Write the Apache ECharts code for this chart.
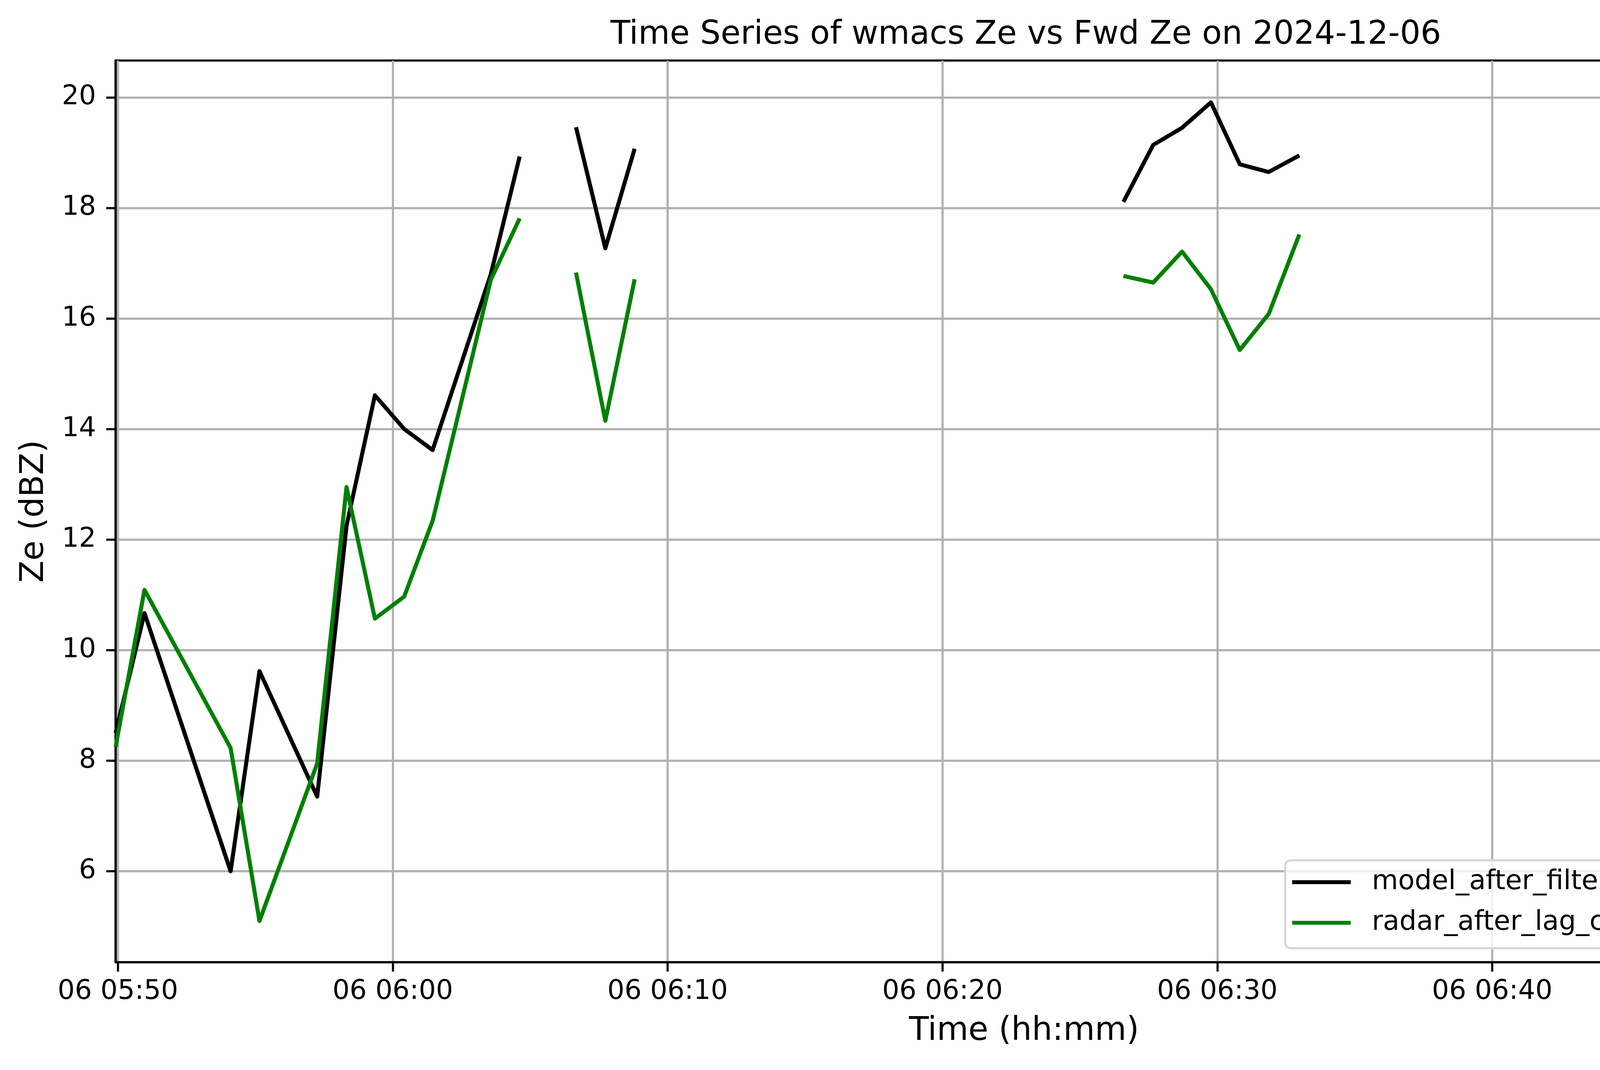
<!DOCTYPE html>
<html>
<head>
<meta charset="utf-8">
<script src="https://cdn.jsdelivr.net/npm/echarts@6/dist/echarts.min.js"></script>
<style>
  html, body { margin: 0; padding: 0; background: #fff; }
  #chart { width: 4995px; height: 2740px; }
</style>
</head>
<body>
<div id="chart"></div>
<script>
// ------------------------- 数据 -------------------------
// 时间戳 (2024-12-06)，null 表示缺测 → 折线断开
const times = [
  '05:49:55', '05:50:58', '05:54:06', '05:55:09', '05:57:15', '05:58:19',
  '05:59:21', '06:00:25', '06:01:27', '06:03:34', '06:04:37', '06:05:40',
  '06:06:40', '06:07:44', '06:08:48', '06:09:51',
  '06:26:35', '06:27:40', '06:28:43', '06:29:46', '06:30:49', '06:31:52', '06:32:59', '06:34:02',
  '06:51:45', '06:52:51', '06:53:56'
];
const modelZe = [
  8.50, 10.67, 6.00, 9.62, 7.35, 12.25,
  14.61, 14.00, 13.62, 16.80, 18.93, null,
  19.46, 17.27, 19.07, null,
  18.11, 19.14, 19.45, 19.91, 18.79, 18.65, 18.95, null,
  17.73, 18.61, 19.24
];
const radarZe = [
  8.25, 11.09, 8.23, 5.10, 7.95, 12.95,
  10.57, 10.97, 12.34, 16.70, 17.81, null,
  16.83, 14.15, 16.71, null,
  16.77, 16.65, 17.21, 16.53, 15.43, 16.08, 17.52, null,
  15.22, 15.54, 16.40
];
const xTickLabels = ['05:50', '06:00', '06:10', '06:20', '06:30', '06:40', '06:50'];
const yTicks = [6, 8, 10, 12, 14, 16, 18, 20];
const xRange = ['05:49:55', '06:56:01'];
const yRange = [4.354, 20.667];

// hh:mm(:ss) → 当天秒数
const toSec = (s) => {
  const p = s.split(':').map(Number);
  return p[0] * 3600 + p[1] * 60 + (p[2] || 0);
};
const fmtTime = (v) => {
  const h = Math.floor(v / 3600);
  const m = Math.round((v - h * 3600) / 60);
  return `06 ${String(h).padStart(2, '0')}:${String(m).padStart(2, '0')}`;
};
const toSeries = (vals) => times.map((t, i) => [toSec(t), vals[i] === null ? '-' : vals[i]]);

const FONT = 'DejaVu Sans';
const gridColor = '#b0b0b0';

const chart = echarts.init(document.getElementById('chart'), null, { renderer: 'canvas' });
chart.setOption({
  animation: false,
  backgroundColor: '#ffffff',
  title: {
    text: 'Time Series of wmacs Ze vs Fwd Ze on 2024-12-06',
    left: 2621,
    top: 44,
    textAlign: 'center',
    textStyle: { fontFamily: FONT, fontSize: 83, fontWeight: 'normal', color: '#000' }
  },
  grid: {
    left: 296, right: 48, top: 155, bottom: 276,
    containLabel: false,
    outerBoundsMode: 'none',
    show: true,
    borderColor: '#000',
    borderWidth: 5.5,
    backgroundColor: 'transparent'
  },
  legend: {
    orient: 'vertical',
    right: 86,
    bottom: 312,
    padding: [16, 32, 25, 18],
    itemGap: 24,
    itemWidth: 150,
    itemHeight: 10,
    icon: 'rect',
    backgroundColor: 'rgba(255,255,255,0.8)',
    borderColor: '#d6d6d6',
    borderWidth: 5.5,
    borderRadius: 14,
    textStyle: {
      fontFamily: FONT, fontSize: 69, color: '#000',
      lineHeight: 80, padding: [0, 0, 0, 49]
    },
    data: ['model_after_filtering', 'radar_after_lag_correction(window=10)']
  },
  xAxis: {
    type: 'value',
    min: toSec(xRange[0]),
    max: toSec(xRange[1]),
    name: 'Time (hh:mm)',
    nameLocation: 'middle',
    nameGap: 136,
    nameMoveOverlap: false,
    nameTextStyle: { fontFamily: FONT, fontSize: 83, color: '#000', lineHeight: 83 },
    axisLine: { show: true, onZero: false, lineStyle: { color: '#000', width: 5.5 } },
    axisTick: {
      show: true, length: 24, lineStyle: { color: '#000', width: 5.5 },
      customValues: xTickLabels.map(t => toSec(t))
    },
    axisLabel: {
      show: true, margin: 42, fontFamily: FONT, fontSize: 69, color: '#000', lineHeight: 69,
      customValues: xTickLabels.map(t => toSec(t)),
      formatter: fmtTime
    },
    splitLine: { show: true, lineStyle: { color: gridColor, width: 5.5 } }
  },
  yAxis: {
    type: 'value',
    min: yRange[0],
    max: yRange[1],
    name: 'Ze (dBZ)',
    nameLocation: 'middle',
    nameGap: 166,
    nameMoveOverlap: false,
    nameTextStyle: { fontFamily: FONT, fontSize: 83, color: '#000', lineHeight: 83 },
    axisLine: { show: true, onZero: false, lineStyle: { color: '#000', width: 5.5 } },
    axisTick: {
      show: true, length: 24, lineStyle: { color: '#000', width: 5.5 },
      customValues: yTicks
    },
    axisLabel: {
      show: true, margin: 50, fontFamily: FONT, fontSize: 69, color: '#000',
      customValues: yTicks,
      formatter: (v) => String(v)
    },
    splitLine: { show: true, lineStyle: { color: gridColor, width: 5.5 } }
  },
  series: [
    {
      name: 'model_after_filtering',
      type: 'line',
      data: toSeries(modelZe),
      showSymbol: false,
      symbol: 'none',
      connectNulls: false,
      itemStyle: { color: '#000000' },
      lineStyle: { color: '#000000', width: 10.4, join: 'round', cap: 'butt' },
      z: 3
    },
    {
      name: 'radar_after_lag_correction(window=10)',
      type: 'line',
      data: toSeries(radarZe),
      showSymbol: false,
      symbol: 'none',
      connectNulls: false,
      itemStyle: { color: '#008000' },
      lineStyle: { color: '#008000', width: 10.4, join: 'round', cap: 'butt' },
      z: 4
    }
  ]
});
</script>
</body>
</html>
